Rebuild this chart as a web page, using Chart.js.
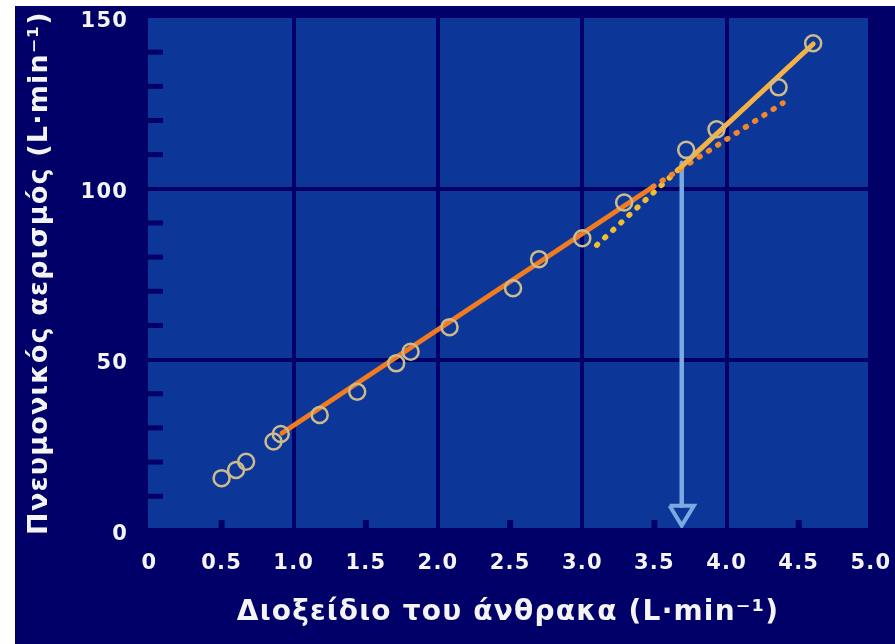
<!DOCTYPE html>
<html>
<head>
<meta charset="utf-8">
<script src="https://cdn.jsdelivr.net/npm/chart.js@4/dist/chart.umd.min.js"></script>
<style>
    html, body { margin: 0; padding: 0; background: #ffffff; }
    #wrap { width: 895px; height: 644px; }
</style>
</head>
<body>
<div id="wrap"><canvas id="ventChart"></canvas></div>
<script>
// ===== DATA =====
// measured points (open circles)
const co2Values = [0.50, 0.60, 0.67, 0.86, 0.91, 1.18, 1.44, 1.71, 1.81, 2.08,
    2.52, 2.70, 3.00, 3.29, 3.72, 3.93, 4.36, 4.60];
const ventValues = [15.3, 17.7, 20.1, 26.0, 28.2, 33.8, 40.6, 48.9, 52.3, 59.5,
    70.9, 79.4, 85.5, 96.0, 111.4, 117.4, 129.7, 142.6];

// lower fit line (solid orange) and its dotted extension
const lowFitX = [0.92, 3.49];
const lowFitY = [28.5, 100.6];
const lowExtX = [3.49, 4.39];
const lowExtY = [100.6, 125.1];

// upper fit line (dotted part below the break, solid above)
const highDotX = [3.10, 3.68];
const highDotY = [83.5, 106.2];
const highFitX = [3.68, 4.60];
const highFitY = [106.2, 142.4];

// threshold arrow
const arrowX = [3.689, 3.689];
const arrowY = [107.6, 7.2];
const arrowHeadX = [3.605, 3.689, 3.773, 3.605];
const arrowHeadY = [7.2, 1.4, 7.2, 7.2];

// axis ticks
const xTicks = [0, 0.5, 1, 1.5, 2, 2.5, 3, 3.5, 4, 4.5, 5];
const xGridValues = [1, 2, 3, 4];
const xMinorValues = [0.5, 1.5, 2.5, 3.5, 4.5];
const yTicks = [0, 50, 100, 150];
const yGridValues = [50, 100];
const yMinorValues = [10, 20, 30, 40, 60, 70, 80, 90, 110, 120, 130, 140];

// ===== COLOURS =====
const NAVY = "#000068";
const PLOT_BLUE = "#0c3799";
const TEXT = "#f4f4f4";

function toPoints(xs, ys) {
    return xs.map((x, i) => ({ x: x, y: ys[i] }));
}

// ===== PLUGINS =====
const backdrop = {
    id: "backdrop",
    beforeDraw(chart) {
        const { ctx, chartArea } = chart;
        ctx.save();
        ctx.fillStyle = "#ffffff";
        ctx.fillRect(0, 0, chart.width, chart.height);
        ctx.fillStyle = NAVY;
        ctx.fillRect(15, 6, chart.width - 15, chart.height - 6);
        ctx.fillStyle = PLOT_BLUE;
        ctx.fillRect(chartArea.left, chartArea.top,
            chartArea.right - chartArea.left, chartArea.bottom - chartArea.top);
        ctx.restore();
        // the original lettering is wide, spread it a little
        ctx.letterSpacing = "1.2px";
    },
};

// small inward tick marks
const minorMarks = {
    id: "minorMarks",
    beforeDatasetsDraw(chart) {
        const { ctx, chartArea, scales } = chart;
        ctx.save();
        ctx.fillStyle = NAVY;
        yMinorValues.forEach((v) => {
            const py = scales.y.getPixelForValue(v);
            ctx.fillRect(chartArea.left, py - 2.5, 15, 5);
        });
        xMinorValues.forEach((v) => {
            const px = scales.x.getPixelForValue(v);
            ctx.fillRect(px - 3, chartArea.bottom - 8, 6, 8);
        });
        ctx.restore();
    },
};

// ===== CHART =====
const lineBase = {
    type: "line",
    showLine: true,
    pointRadius: 0,
    pointHoverRadius: 0,
    fill: false,
    tension: 0,
};

new Chart(document.getElementById("ventChart"), {
    type: "scatter",
    data: {
        datasets: [
            {
                label: "points",
                data: toPoints(co2Values, ventValues),
                pointStyle: "circle",
                pointRadius: 8,
                pointBorderWidth: 2.5,
                pointBorderColor: "#cdbb8c",
                pointBackgroundColor: "rgba(0,0,0,0)",
                order: 0,
            },
            {
                ...lineBase,
                label: "high fit",
                data: toPoints(highFitX, highFitY),
                borderColor: "#f6b143",
                borderWidth: 5,
                borderCapStyle: "round",
                order: 1,
            },
            {
                ...lineBase,
                label: "low extension",
                data: toPoints(lowExtX, lowExtY),
                borderColor: "#f2862a",
                borderWidth: 5.5,
                borderDash: [1, 10],
                borderCapStyle: "round",
                order: 2,
            },
            {
                ...lineBase,
                label: "low fit",
                data: toPoints(lowFitX, lowFitY),
                borderColor: "#f27a1f",
                borderWidth: 5,
                borderCapStyle: "round",
                order: 3,
            },
            {
                ...lineBase,
                label: "high dotted",
                data: toPoints(highDotX, highDotY),
                borderColor: "#f3bd33",
                borderWidth: 5.5,
                borderDash: [1, 10],
                borderCapStyle: "round",
                order: 4,
            },
            {
                ...lineBase,
                label: "arrow",
                data: toPoints(arrowX, arrowY),
                borderColor: "#7aaadf",
                borderWidth: 4.5,
                borderCapStyle: "round",
                order: 5,
            },
            {
                ...lineBase,
                label: "arrow head",
                data: toPoints(arrowHeadX, arrowHeadY),
                borderColor: "#7aaadf",
                borderWidth: 4,
                borderJoinStyle: "miter",
                order: 5,
            },
        ],
    },
    options: {
        responsive: true,
        maintainAspectRatio: false,
        animation: false,
        events: [],
        layout: { padding: { left: 0, top: 18, right: 27, bottom: 0 } },
        plugins: {
            legend: { display: false },
            tooltip: { enabled: false },
        },
        scales: {
            x: {
                type: "linear",
                min: -0.01,
                max: 4.98,
                afterBuildTicks: (scale) => {
                    scale.ticks = xTicks.map((v) => ({ value: v }));
                },
                afterFit: (scale) => {
                    scale.height = 116;
                    // labels may overhang; keep the plot box fixed
                    scale.paddingLeft = 0;
                    scale.paddingRight = 0;
                },
                border: { display: false },
                grid: {
                    drawTicks: false,
                    lineWidth: 4,
                    color: (c) => (xGridValues.includes(c.tick.value) ? NAVY : "rgba(0,0,0,0)"),
                },
                ticks: {
                    padding: 23,
                    color: TEXT,
                    maxRotation: 0,
                    autoSkip: false,
                    font: { family: "DejaVu Sans", weight: "bold", size: 21 },
                    callback: (v) => (v === 0 ? "0" : Number(v).toFixed(1)),
                },
                title: {
                    display: true,
                    text: "Διοξείδιο του άνθρακα (L·min⁻¹)",
                    color: TEXT,
                    font: { family: "DejaVu Sans", weight: "bold", size: 28 },
                    padding: { top: 0, bottom: 14 },
                },
            },
            y: {
                type: "linear",
                min: 0.7,
                max: 150,
                afterBuildTicks: (scale) => {
                    scale.ticks = yTicks.map((v) => ({ value: v }));
                },
                afterFit: (scale) => {
                    scale.width = 148;
                    scale.paddingTop = 0;
                    scale.paddingBottom = 0;
                },
                border: { display: false },
                grid: {
                    drawTicks: false,
                    lineWidth: 4,
                    color: (c) => (yGridValues.includes(c.tick.value) ? NAVY : "rgba(0,0,0,0)"),
                },
                ticks: {
                    padding: 20,
                    labelOffset: 4,
                    color: TEXT,
                    autoSkip: false,
                    font: { family: "DejaVu Sans", weight: "bold", size: 21 },
                },
                title: {
                    display: true,
                    text: "Πνευμονικός αερισμός (L·min⁻¹)",
                    color: TEXT,
                    font: { family: "DejaVu Sans", weight: "bold", size: 27 },
                    padding: { top: 24, bottom: 0 },
                },
            },
        },
    },
    plugins: [backdrop, minorMarks],
});
</script>
</body>
</html>
